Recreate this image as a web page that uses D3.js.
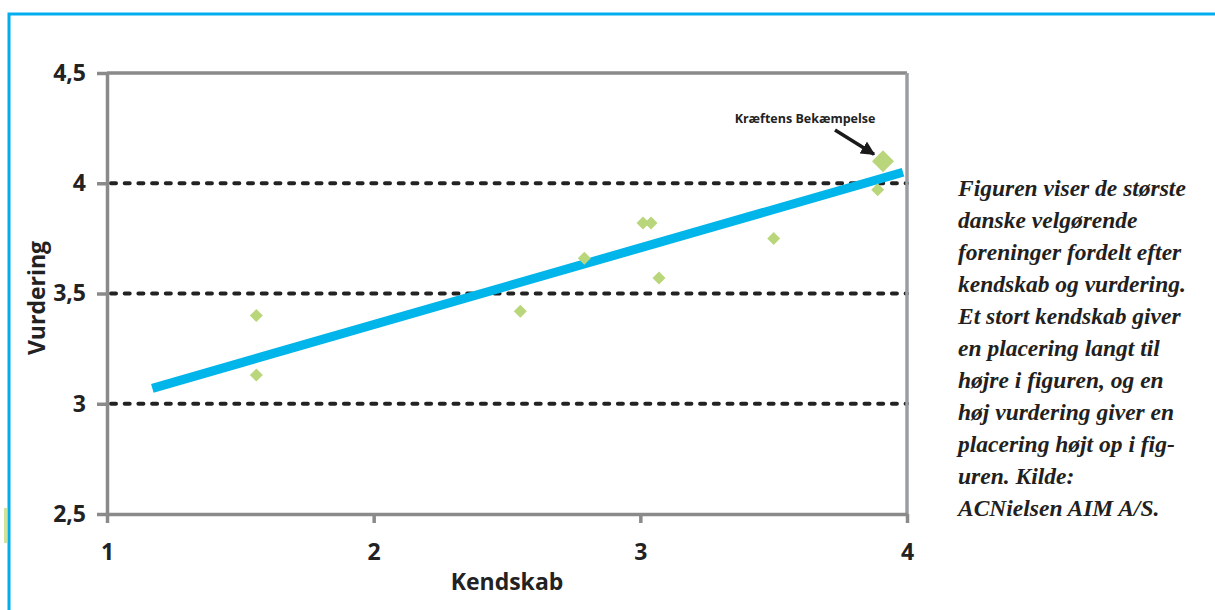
<!DOCTYPE html>
<html>
<head>
<meta charset="utf-8">
<script src="https://cdn.jsdelivr.net/npm/d3@7"></script>
<style>
  body { margin: 0; background: #fff; }
  svg { display: block; }
  .axis path, .axis line { stroke: #8a8a8a; stroke-width: 3.5; }
  .axis text { font-family: "Open Sans", sans-serif; font-weight: 700; font-size: 23px; fill: #222; }
  .grid { stroke: #222; stroke-width: 4; stroke-dasharray: 5,8.7; stroke-linecap: round; }
</style>
</head>
<body>
<svg id="chart"></svg>
<script>
// Chart data
var kendskab  = [1.56, 1.56, 2.55, 2.79, 3.01, 3.04, 3.07, 3.50, 3.89];
var vurdering = [3.40, 3.13, 3.42, 3.66, 3.82, 3.82, 3.57, 3.75, 3.97];
var highlightX = [3.91];
var highlightY = [4.10];
var highlightName = ["Kræftens Bekæmpelse"];
var trendX = [1.17, 3.985];
var trendY = [3.07, 4.05];
var xTicks = [1, 2, 3, 4];
var yTicks = [2.5, 3, 3.5, 4, 4.5];
var gridValues = [3, 3.5, 4];
var noteLines = [
  "Figuren viser de største",
  "danske velgørende",
  "foreninger fordelt efter",
  "kendskab og vurdering.",
  "Et stort kendskab giver",
  "en placering langt til",
  "højre i figuren, og en",
  "høj vurdering giver en",
  "placering højt op i fig-",
  "uren. Kilde:",
  "ACNielsen AIM A/S."
];

var W = 1215, H = 610;
var svg = d3.select("#chart").attr("width", W).attr("height", H);

// Frame
svg.append("path")
    .attr("d", "M9,610 V14 H1215")
    .attr("fill", "none")
    .attr("stroke", "#00aeef")
    .attr("stroke-width", 3);
svg.append("rect")
    .attr("x", 4).attr("y", 508).attr("width", 3).attr("height", 35)
    .attr("fill", "#cfe39a");

// Scales
var x = d3.scaleLinear().domain([1, 4]).range([107, 907]);
var y = d3.scaleLinear().domain([2.5, 4.5]).range([514, 73]);

// Gridlines
svg.selectAll(".grid")
    .data(gridValues)
    .enter().append("line")
    .attr("class", "grid")
    .attr("x1", x(1) + 4).attr("x2", x(4))
    .attr("y1", function(d) { return y(d); })
    .attr("y2", function(d) { return y(d); });

// Top and right borders
svg.append("line")
    .attr("x1", x(1)).attr("x2", x(4))
    .attr("y1", y(4.5)).attr("y2", y(4.5))
    .attr("stroke", "#8a8a8a").attr("stroke-width", 3.5);
svg.append("line")
    .attr("x1", x(4)).attr("x2", x(4))
    .attr("y1", y(4.5)).attr("y2", y(2.5))
    .attr("stroke", "#9a9ea3").attr("stroke-width", 3.5);

// Axes
var fmt = function(d) { return String(d).replace(".", ","); };
svg.append("g")
    .attr("class", "axis")
    .attr("transform", "translate(" + x(1) + ",0)")
    .call(d3.axisLeft(y).tickValues(yTicks).tickFormat(fmt).tickSize(10).tickSizeOuter(0).tickPadding(11));
svg.append("g")
    .attr("class", "axis")
    .attr("transform", "translate(0," + y(2.5) + ")")
    .call(d3.axisBottom(x).tickValues(xTicks).tickFormat(fmt).tickSize(9).tickSizeOuter(0).tickPadding(21));

// Axis titles
svg.append("text")
    .attr("x", (x(1) + x(4)) / 2).attr("y", 590)
    .attr("text-anchor", "middle")
    .style("font-family", "Open Sans, sans-serif").style("font-weight", 700).style("font-size", "23px")
    .attr("fill", "#222")
    .text("Kendskab");
svg.append("text")
    .attr("transform", "translate(45,298) rotate(-90)")
    .attr("text-anchor", "middle")
    .style("font-family", "Open Sans, sans-serif").style("font-weight", 700).style("font-size", "23px")
    .attr("fill", "#222")
    .text("Vurdering");

// Trend line
svg.append("line")
    .attr("x1", x(trendX[0])).attr("y1", y(trendY[0]))
    .attr("x2", x(trendX[1])).attr("y2", y(trendY[1]))
    .attr("stroke", "#00b5e9").attr("stroke-width", 9);

// Points
var diamond = function(r) { return "M0," + (-r) + "L" + r + ",0L0," + r + "L" + (-r) + ",0Z"; };
svg.selectAll(".dot")
    .data(kendskab)
    .enter().append("path")
    .attr("class", "dot")
    .attr("d", diamond(6.5))
    .attr("transform", function(d, i) { return "translate(" + x(d) + "," + y(vurdering[i]) + ")"; })
    .attr("fill", "#b9d77a");
svg.selectAll(".hl")
    .data(highlightX)
    .enter().append("path")
    .attr("class", "hl")
    .attr("d", diamond(11))
    .attr("transform", function(d, i) { return "translate(" + x(d) + "," + y(highlightY[i]) + ")"; })
    .attr("fill", "#b9d77a");

// Annotation
svg.append("defs").append("marker")
    .attr("id", "arrow")
    .attr("viewBox", "0 0 10 10")
    .attr("refX", 9).attr("refY", 5)
    .attr("markerWidth", 4).attr("markerHeight", 4)
    .attr("orient", "auto")
  .append("path")
    .attr("d", "M0,0L10,5L0,10Z")
    .attr("fill", "#1a1a1a");
svg.append("line")
    .attr("x1", 835).attr("y1", 130)
    .attr("x2", x(highlightX[0]) - 9).attr("y2", y(highlightY[0]) - 7)
    .attr("stroke", "#1a1a1a").attr("stroke-width", 3.5)
    .attr("marker-end", "url(#arrow)");
svg.append("text")
    .attr("x", 805).attr("y", 123)
    .attr("text-anchor", "middle")
    .style("font-family", "Open Sans, sans-serif").style("font-weight", 700).style("font-size", "12.5px")
    .attr("fill", "#222")
    .text(highlightName[0]);

// Side note
svg.append("g")
    .selectAll("text")
    .data(noteLines)
    .enter().append("text")
    .attr("x", 958)
    .attr("y", function(d, i) { return 196 + i * 32; })
    .style("font-family", "Liberation Serif, serif")
    .style("font-style", "italic").style("font-weight", 700).style("font-size", "23.5px")
    .attr("fill", "#231f20")
    .text(function(d) { return d; });
</script>
</body>
</html>
